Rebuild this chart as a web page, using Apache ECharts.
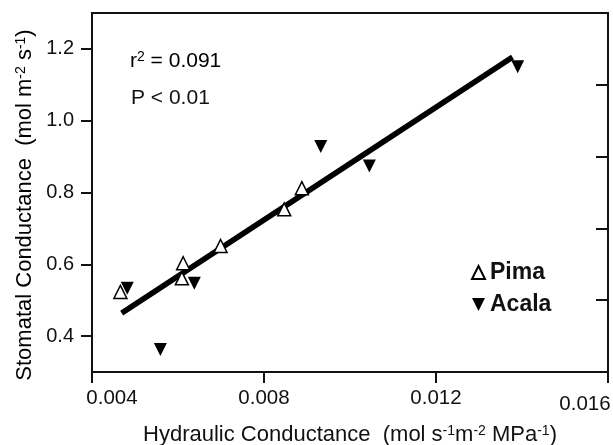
<!DOCTYPE html>
<html>
<head>
<meta charset="utf-8">
<script src="https://cdn.jsdelivr.net/npm/echarts@6/dist/echarts.min.js"></script>
<style>
  html, body { margin: 0; padding: 0; background: #fff; }
  #chart-container { width: 613px; height: 445px; }
</style>
</head>
<body>
<div id="chart-container"></div>
<script>
var dom = document.getElementById("chart-container");
var myChart = echarts.init(dom, null, { renderer: "canvas" });
var option;

// values
var pimaX = [0.00466, 0.00612, 0.00609, 0.00699, 0.00847, 0.00888];
var pimaY = [0.523, 0.603, 0.561, 0.651, 0.753, 0.812];
var acalaX = [0.00482, 0.00559, 0.00638, 0.00932, 0.01045, 0.0139];
var acalaY = [0.533, 0.363, 0.547, 0.928, 0.874, 1.15];
// regression line end points
var fitX = [0.00469, 0.01378];
var fitY = [0.464, 1.177];

var xTicks = [0.004, 0.008, 0.012, 0.016];
var yLeftTicks = [0.4, 0.6, 0.8, 1.0, 1.2];
var yRightTicks = [0.5, 0.7, 0.9, 1.1];

var FONT = "Liberation Sans, Arial, Helvetica, sans-serif";
var INK = "#111";

function pairs(xs, ys) {
  return xs.map(function (x, i) {
    return [x, ys[i]];
  });
}

var supStyle = { fontSize: 14, fontFamily: FONT, color: INK, verticalAlign: "top", lineHeight: 14 };
var tickFont = { fontFamily: FONT, fontSize: 20.5, color: INK };

option = {
  animation: false,
  backgroundColor: "#fff",
  grid: {
    left: 92,
    right: 5,
    top: 13,
    bottom: 73,
    containLabel: false,
    outerBoundsMode: "none",
    show: true,
    borderColor: INK,
    borderWidth: 2,
  },
  legend: {
    data: ["Pima", "Acala"],
    orient: "vertical",
    left: 471,
    top: 261,
    padding: 0,
    itemWidth: 13,
    itemHeight: 13,
    itemGap: 9,
    textStyle: {
      fontFamily: FONT,
      fontSize: 23,
      fontWeight: "bold",
      color: INK,
      lineHeight: 23,
    },
  },
  xAxis: {
    type: "value",
    min: 0.004,
    max: 0.016,
    interval: 0.004,
    name: "Hydraulic Conductance  (mol s{s|-1}m{s|-2} MPa{s|-1})",
    nameLocation: "middle",
    nameGap: 52,
    nameTextStyle: {
      fontFamily: FONT,
      fontSize: 22,
      color: INK,
      lineHeight: 22,
      rich: { s: supStyle },
    },
    axisLine: { show: true, lineStyle: { color: INK, width: 2 } },
    axisTick: { show: true, inside: false, length: 11, lineStyle: { color: INK, width: 2 } },
    axisLabel: {
      margin: 16,
      fontFamily: FONT,
      fontSize: 20.5,
      color: INK,
      customValues: xTicks,
      formatter: function (v) {
        var s = v.toFixed(3);
        if (v < 0.0045) return "{first|" + s + "}";
        if (v > 0.0155) return "{last|" + s + "}";
        return s;
      },
      rich: {
        first: Object.assign({ padding: [0, 0, 0, 40] }, tickFont),
        last: Object.assign({ padding: [6, 46, 0, 0] }, tickFont),
      },
    },
    splitLine: { show: false },
  },
  yAxis: [
    {
      type: "value",
      position: "left",
      min: 0.3,
      max: 1.3,
      axisLine: { show: true, lineStyle: { color: INK, width: 2 } },
      axisTick: {
        show: true,
        inside: false,
        length: 11,
        customValues: yLeftTicks,
        lineStyle: { color: INK, width: 2 },
      },
      axisLabel: {
        margin: 18,
        fontFamily: FONT,
        fontSize: 20,
        color: INK,
        customValues: yLeftTicks,
        formatter: function (v) {
          return v.toFixed(1);
        },
      },
      splitLine: { show: false },
    },
    {
      type: "value",
      position: "right",
      min: 0.3,
      max: 1.3,
      axisLine: { show: true, lineStyle: { color: INK, width: 2 } },
      axisTick: {
        show: true,
        inside: true,
        length: 12,
        customValues: yRightTicks,
        lineStyle: { color: INK, width: 2 },
      },
      axisLabel: { show: false },
      splitLine: { show: false },
    },
  ],
  graphic: [
    {
      type: "text",
      left: 130,
      top: 50,
      style: {
        text: "{a|r}{s|2}{a| = 0.091}",
        rich: {
          a: { fontFamily: FONT, fontSize: 21, color: INK, lineHeight: 23 },
          s: supStyle,
        },
      },
    },
    {
      type: "text",
      left: 131,
      top: 88,
      style: {
        text: "P < 0.01",
        fontFamily: FONT,
        fontSize: 21,
        fill: INK,
      },
    },
    {
      type: "text",
      x: 25,
      y: 205,
      rotation: Math.PI / 2,
      style: {
        text: "{a|Stomatal Conductance  (mol m}{s|-2}{a| s}{s|-1}{a|)}",
        align: "center",
        verticalAlign: "middle",
        rich: {
          a: { fontFamily: FONT, fontSize: 22, color: INK, lineHeight: 22 },
          s: supStyle,
        },
      },
    },
  ],
  series: [
    {
      name: "fit",
      type: "line",
      data: pairs(fitX, fitY),
      showSymbol: false,
      symbol: "none",
      lineStyle: { color: "#000", width: 5.5 },
      silent: true,
      z: 2,
    },
    {
      name: "Pima",
      type: "scatter",
      data: pairs(pimaX, pimaY),
      symbol: "triangle",
      symbolSize: 13,
      itemStyle: { color: "#fff", borderColor: "#000", borderWidth: 1.5, opacity: 1 },
      z: 3,
    },
    {
      name: "Acala",
      type: "scatter",
      data: pairs(acalaX, acalaY),
      symbol: "path://M0,0 L12,0 L6,12 Z",
      symbolSize: 13,
      itemStyle: { color: "#000", opacity: 1 },
      z: 4,
    },
  ],
};

myChart.setOption(option);

window.addEventListener("resize", myChart.resize);
</script>
</body>
</html>
